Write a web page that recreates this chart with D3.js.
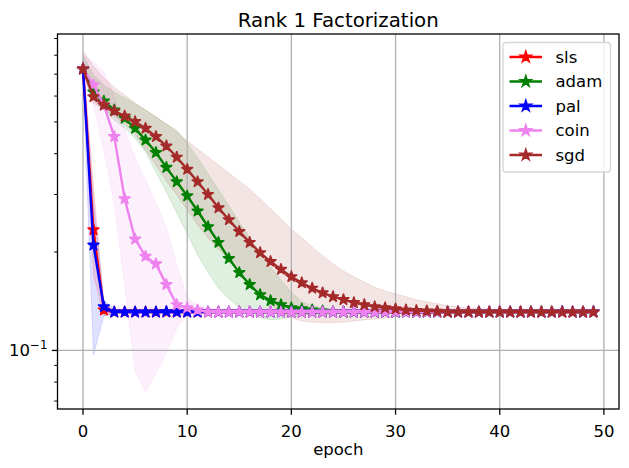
<!DOCTYPE html>
<html>
<head>
<meta charset="utf-8">
<script src="https://cdn.jsdelivr.net/npm/d3@7"></script>
<style>
body { margin: 0; background: white; }
text { font-family: "DejaVu Sans", sans-serif; fill: black; }
</style>
</head>
<body>
<svg id="chart" width="629" height="468"></svg>
<script>
var epochs = d3.range(0, 50);
var xTicks = [0, 10, 20, 30, 40, 50];
var yMinorTicks = [0.07, 0.08, 0.09, 0.2, 0.3, 0.4, 0.5, 0.6, 0.7, 0.8, 0.9];
var names = ["sls", "adam", "pal", "coin", "sgd"];

// mean loss per epoch
var slsLoss = [0.726, 0.234, 0.133, 0.131, 0.131, 0.131, 0.131, 0.131, 0.131, 0.131,
    0.131, 0.131, 0.131, 0.131, 0.131, 0.131, 0.131, 0.131, 0.131, 0.131,
    0.131, 0.131, 0.131, 0.131, 0.131, 0.131, 0.131, 0.131, 0.131, 0.131,
    0.131, 0.131, 0.131, 0.131, 0.131, 0.131, 0.131, 0.131, 0.131, 0.131,
    0.131, 0.131, 0.131, 0.131, 0.131, 0.131, 0.131, 0.131, 0.131, 0.131];
var adamLoss = [0.726, 0.617, 0.579, 0.544, 0.513, 0.478, 0.440, 0.403, 0.363, 0.328,
    0.297, 0.267, 0.239, 0.214, 0.191, 0.173, 0.159, 0.148, 0.142, 0.138,
    0.135, 0.134, 0.133, 0.132, 0.131, 0.131, 0.131, 0.131, 0.131, 0.131,
    0.131, 0.131, 0.131, 0.131, 0.131, 0.131, 0.131, 0.131, 0.131, 0.131,
    0.131, 0.131, 0.131, 0.131, 0.131, 0.131, 0.131, 0.131, 0.131, 0.131];
var palLoss = [0.726, 0.210, 0.136, 0.131, 0.131, 0.131, 0.131, 0.131, 0.1313, 0.131,
    0.131, 0.131, 0.131, 0.131, 0.131, 0.131, 0.131, 0.131, 0.131, 0.131,
    0.131, 0.131, 0.131, 0.131, 0.131, 0.131, 0.131, 0.131, 0.131, 0.131,
    0.131, 0.131, 0.131, 0.131, 0.131, 0.131, 0.131, 0.131, 0.131, 0.131,
    0.131, 0.131, 0.131, 0.131, 0.131, 0.131, 0.1315, 0.131, 0.131, 0.1313];
var coinLoss = [0.726, 0.649, 0.563, 0.451, 0.291, 0.219, 0.194, 0.184, 0.159, 0.138,
    0.135, 0.133, 0.131, 0.131, 0.131, 0.131, 0.131, 0.131, 0.131, 0.131,
    0.131, 0.131, 0.131, 0.131, 0.131, 0.131, 0.131, 0.131, 0.131, 0.131,
    0.131, 0.131, 0.131, 0.131, 0.131, 0.131, 0.131, 0.131, 0.131, 0.131,
    0.131, 0.131, 0.131, 0.131, 0.131, 0.131, 0.131, 0.131, 0.131, 0.131];
var sgdLoss = [0.726, 0.597, 0.563, 0.540, 0.521, 0.501, 0.478, 0.451, 0.422, 0.390,
    0.358, 0.328, 0.300, 0.273, 0.251, 0.231, 0.214, 0.199, 0.187, 0.177,
    0.168, 0.161, 0.155, 0.150, 0.146, 0.143, 0.140, 0.138, 0.136, 0.135,
    0.134, 0.133, 0.1324, 0.132, 0.1317, 0.131, 0.131, 0.131, 0.131, 0.131,
    0.131, 0.131, 0.131, 0.131, 0.131, 0.131, 0.131, 0.131, 0.131, 0.131];

// upper / lower edge of the shaded spread
var slsHi = [0.773, 0.321, 0.138, 0.1335, 0.1335, 0.1335, 0.1335, 0.1335, 0.1335, 0.1335,
    0.1335, 0.1335, 0.1335, 0.1335, 0.1335, 0.1335, 0.1335, 0.1335, 0.1335, 0.1335,
    0.1335, 0.1335, 0.1335, 0.1335, 0.1335, 0.1335, 0.1335, 0.1335, 0.1335, 0.1335,
    0.1335, 0.1335, 0.1335, 0.1335, 0.1335, 0.1335, 0.1335, 0.1335, 0.1335, 0.1335,
    0.1335, 0.1335, 0.1335, 0.1335, 0.1335, 0.1335, 0.1335, 0.1335, 0.1335, 0.1335];
var slsLo = [0.696, 0.170, 0.1275, 0.130, 0.130, 0.130, 0.130, 0.130, 0.130, 0.130,
    0.130, 0.130, 0.130, 0.130, 0.130, 0.130, 0.130, 0.130, 0.130, 0.130,
    0.130, 0.130, 0.130, 0.130, 0.130, 0.130, 0.130, 0.130, 0.130, 0.130,
    0.130, 0.130, 0.130, 0.130, 0.130, 0.130, 0.130, 0.130, 0.130, 0.130,
    0.130, 0.130, 0.130, 0.130, 0.130, 0.130, 0.130, 0.130, 0.130, 0.130];
var adamHi = [0.801, 0.696, 0.649, 0.617, 0.592, 0.567, 0.544, 0.518, 0.493, 0.472,
    0.431, 0.388, 0.347, 0.310, 0.277, 0.247, 0.221, 0.199, 0.180, 0.164,
    0.151, 0.141, 0.137, 0.135, 0.1335, 0.1326, 0.1326, 0.1326, 0.1326, 0.1326,
    0.1326, 0.1326, 0.1326, 0.1326, 0.1326, 0.1326, 0.1326, 0.1326, 0.1326, 0.1326,
    0.1326, 0.1326, 0.1326, 0.1326, 0.1326, 0.1326, 0.1326, 0.1326, 0.1326, 0.1326];
var adamLo = [0.706, 0.584, 0.544, 0.507, 0.479, 0.446, 0.405, 0.351, 0.305, 0.263,
    0.227, 0.196, 0.173, 0.155, 0.144, 0.135, 0.1293, 0.126, 0.124, 0.1248,
    0.1266, 0.1284, 0.1297, 0.130, 0.1307, 0.1307, 0.1307, 0.1307, 0.1307, 0.1307,
    0.1307, 0.1307, 0.1307, 0.1307, 0.1307, 0.1307, 0.1307, 0.1307, 0.1307, 0.1307,
    0.1307, 0.1307, 0.1307, 0.1307, 0.1307, 0.1307, 0.1307, 0.1307, 0.1307, 0.1307];
var palHi = [0.773, 0.289, 0.143, 0.1335, 0.1335, 0.1335, 0.1335, 0.1335, 0.1335, 0.1335,
    0.1335, 0.1335, 0.1335, 0.1335, 0.1335, 0.1335, 0.1335, 0.1335, 0.1335, 0.1335,
    0.1335, 0.1335, 0.1335, 0.1335, 0.1335, 0.1335, 0.1335, 0.1335, 0.1335, 0.1335,
    0.1335, 0.1335, 0.1335, 0.1335, 0.1335, 0.1335, 0.1335, 0.1335, 0.1335, 0.1335,
    0.1335, 0.1335, 0.1335, 0.1335, 0.1335, 0.1335, 0.1335, 0.1335, 0.1335, 0.1335];
var palLo = [0.696, 0.0969, 0.1275, 0.130, 0.130, 0.130, 0.130, 0.130, 0.130, 0.130,
    0.130, 0.130, 0.130, 0.130, 0.130, 0.130, 0.130, 0.130, 0.130, 0.130,
    0.130, 0.130, 0.130, 0.130, 0.130, 0.130, 0.130, 0.130, 0.130, 0.130,
    0.130, 0.130, 0.130, 0.130, 0.130, 0.130, 0.130, 0.130, 0.130, 0.130,
    0.130, 0.130, 0.130, 0.130, 0.130, 0.130, 0.130, 0.130, 0.130, 0.130];
var coinHi = [0.801, 0.763, 0.711, 0.604, 0.472, 0.388, 0.332, 0.283, 0.237, 0.183,
    0.145, 0.137, 0.135, 0.1335, 0.1335, 0.1335, 0.1335, 0.1335, 0.1335, 0.1335,
    0.1335, 0.1335, 0.1335, 0.1335, 0.1335, 0.1335, 0.1335, 0.1335, 0.1335, 0.1335,
    0.1335, 0.1335, 0.1335, 0.1335, 0.1335, 0.1335, 0.1335, 0.1335, 0.1335, 0.1335,
    0.1335, 0.1335, 0.1335, 0.1335, 0.1335, 0.1335, 0.1335, 0.1335, 0.1335, 0.1335];
var coinLo = [0.706, 0.563, 0.410, 0.279, 0.159, 0.086, 0.0747, 0.0848, 0.0983, 0.117,
    0.1293, 0.1297, 0.130, 0.1307, 0.1307, 0.1307, 0.1307, 0.1307, 0.1307, 0.1307,
    0.1307, 0.1307, 0.1307, 0.1307, 0.1307, 0.1307, 0.1307, 0.1307, 0.1307, 0.1307,
    0.1307, 0.1307, 0.1307, 0.1307, 0.1307, 0.1307, 0.1307, 0.1307, 0.1307, 0.1307,
    0.1307, 0.1307, 0.1307, 0.1307, 0.1307, 0.1307, 0.1307, 0.1307, 0.1307, 0.1307];
var sgdHi = [0.824, 0.741, 0.681, 0.639, 0.604, 0.571, 0.544, 0.518, 0.493, 0.466,
    0.437, 0.413, 0.391, 0.369, 0.349, 0.330, 0.312, 0.291, 0.271, 0.253,
    0.235, 0.221, 0.207, 0.195, 0.184, 0.175, 0.168, 0.162, 0.156, 0.152,
    0.149, 0.146, 0.143, 0.141, 0.139, 0.137, 0.136, 0.135, 0.134, 0.1335,
    0.133, 0.133, 0.133, 0.133, 0.133, 0.133, 0.133, 0.133, 0.133, 0.133];
var sgdLo = [0.706, 0.571, 0.544, 0.521, 0.493, 0.459, 0.410, 0.369, 0.330, 0.299,
    0.269, 0.242, 0.221, 0.204, 0.190, 0.178, 0.163, 0.150, 0.139, 0.130,
    0.1257, 0.123, 0.122, 0.1218, 0.1218, 0.122, 0.123, 0.124, 0.1248, 0.1257,
    0.1266, 0.1275, 0.1284, 0.1293, 0.1297, 0.130, 0.1307, 0.1307, 0.1307, 0.1307,
    0.1307, 0.1307, 0.1307, 0.1307, 0.1307, 0.1307, 0.1307, 0.1307, 0.1307, 0.1307];

var colors = ["red", "green", "blue", "violet", "brown"];
var lossList = [slsLoss, adamLoss, palLoss, coinLoss, sgdLoss];
var hiList = [slsHi, adamHi, palHi, coinHi, sgdHi];
var loList = [slsLo, adamLo, palLo, coinLo, sgdLo];

var svg = d3.select("#chart");
var plotLeft = 57.5, plotRight = 619, plotTop = 34, plotBottom = 409;

svg.append("rect").attr("width", 629).attr("height", 468).attr("fill", "white");

var xScale = d3.scaleLinear().domain([-2.45, 51.45]).range([plotLeft, plotRight]);
var yScale = d3.scaleLog().domain([0.0662, 0.929]).range([plotBottom, plotTop]);

svg.append("clipPath").attr("id", "clip")
    .append("rect")
    .attr("x", plotLeft).attr("y", plotTop)
    .attr("width", plotRight - plotLeft).attr("height", plotBottom - plotTop);

var plot = svg.append("g").attr("clip-path", "url(#clip)");

// shaded bands go under everything
var area = d3.area()
    .x(function(d, i) { return xScale(epochs[i]); })
    .y0(function(d) { return yScale(d[0]); })
    .y1(function(d) { return yScale(d[1]); });

for (var s = 0; s < names.length; s++) {
    var pts = loList[s].map(function(v, i) { return [v, hiList[s][i]]; });
    plot.append("path")
        .attr("d", area(pts))
        .attr("fill", colors[s])
        .attr("fill-opacity", 0.12)
        .attr("stroke", colors[s])
        .attr("stroke-opacity", 0.12)
        .attr("stroke-width", 1);
}

// grid
plot.selectAll(".vgrid").data(xTicks).enter().append("line")
    .attr("x1", function(d) { return xScale(d); })
    .attr("x2", function(d) { return xScale(d); })
    .attr("y1", plotTop).attr("y2", plotBottom)
    .attr("stroke", "#b0b0b0").attr("stroke-width", 1.3);
plot.append("line")
    .attr("x1", plotLeft).attr("x2", plotRight)
    .attr("y1", yScale(0.1)).attr("y2", yScale(0.1))
    .attr("stroke", "#b0b0b0").attr("stroke-width", 1.3);

var line = d3.line()
    .x(function(d, i) { return xScale(epochs[i]); })
    .y(function(d) { return yScale(d); });
var star = d3.symbol().type(d3.symbolStar).size(36);

for (var s = 0; s < names.length; s++) {
    plot.append("path")
        .attr("d", line(lossList[s]))
        .attr("fill", "none")
        .attr("stroke", colors[s])
        .attr("stroke-width", 2.4)
        .attr("stroke-linejoin", "round");
    plot.selectAll(".m" + s).data(lossList[s]).enter().append("path")
        .attr("d", star)
        .attr("transform", function(d, i) {
            return "translate(" + xScale(epochs[i]) + "," + yScale(d) + ")";
        })
        .attr("fill", colors[s])
        .attr("stroke", colors[s])
        .attr("stroke-width", 1.6)
        .attr("stroke-linejoin", "round");
}

// frame
svg.append("rect")
    .attr("x", plotLeft).attr("y", plotTop)
    .attr("width", plotRight - plotLeft).attr("height", plotBottom - plotTop)
    .attr("fill", "none").attr("stroke", "black").attr("stroke-width", 1.3);

// x ticks
svg.selectAll(".xt").data(xTicks).enter().append("line")
    .attr("x1", function(d) { return xScale(d); })
    .attr("x2", function(d) { return xScale(d); })
    .attr("y1", plotBottom).attr("y2", plotBottom + 5.7)
    .attr("stroke", "black").attr("stroke-width", 1.3);
svg.selectAll(".xl").data(xTicks).enter().append("text")
    .attr("x", function(d) { return xScale(d); })
    .attr("y", 437)
    .attr("text-anchor", "middle")
    .style("font-size", "16.5px")
    .text(function(d) { return d; });

// y ticks, log axis
svg.append("line")
    .attr("x1", plotLeft - 5.7).attr("x2", plotLeft)
    .attr("y1", yScale(0.1)).attr("y2", yScale(0.1))
    .attr("stroke", "black").attr("stroke-width", 1.3);
svg.selectAll(".ym").data(yMinorTicks).enter().append("line")
    .attr("x1", plotLeft - 3.3).attr("x2", plotLeft)
    .attr("y1", function(d) { return yScale(d); })
    .attr("y2", function(d) { return yScale(d); })
    .attr("stroke", "black").attr("stroke-width", 1);

var yLab = svg.append("text")
    .attr("x", plotLeft - 10)
    .attr("y", yScale(0.1) + 6)
    .attr("text-anchor", "end")
    .style("font-size", "16.5px");
yLab.append("tspan").text("10");
yLab.append("tspan").attr("dy", -7).style("font-size", "11.8px").text("\u22121");

svg.append("text")
    .attr("x", (plotLeft + plotRight) / 2).attr("y", 455)
    .attr("text-anchor", "middle")
    .style("font-size", "16.5px")
    .text("epoch");

svg.append("text")
    .attr("x", (plotLeft + plotRight) / 2).attr("y", 27)
    .attr("text-anchor", "middle")
    .style("font-size", "19.8px")
    .text("Rank 1 Factorization");

// legend box
var legend = svg.append("g");
legend.append("rect")
    .attr("x", 503).attr("y", 42.5)
    .attr("width", 107.5).attr("height", 129.5)
    .attr("rx", 3)
    .attr("fill", "white").attr("fill-opacity", 0.8)
    .attr("stroke", "#d6d6d6").attr("stroke-width", 1.3);

var legendY = d3.scalePoint().domain(names).range([57, 155]);
names.forEach(function(name, s) {
    var ly = legendY(name);
    legend.append("line")
        .attr("x1", 509.5).attr("x2", 542)
        .attr("y1", ly).attr("y2", ly)
        .attr("stroke", colors[s]).attr("stroke-width", 2.4);
    legend.append("path")
        .attr("d", star)
        .attr("transform", "translate(" + 525.8 + "," + ly + ")")
        .attr("fill", colors[s]).attr("stroke", colors[s]).attr("stroke-width", 1.6);
    legend.append("text")
        .attr("x", 555.5).attr("y", ly + 5.8)
        .style("font-size", "16.5px")
        .text(name);
});
</script>
</body>
</html>
